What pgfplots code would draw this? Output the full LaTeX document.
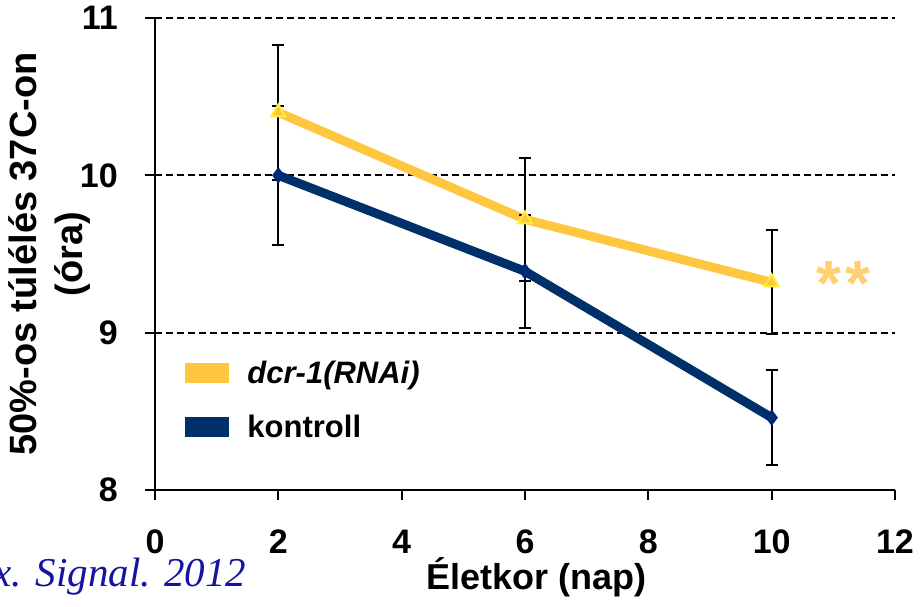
\documentclass[border=0pt]{standalone}
\usepackage{fontspec}
\setmainfont{Liberation Sans}
\newfontfamily\timesfont{Liberation Serif}
\usepackage{pgfplots}
\pgfplotsset{compat=1.18}
\definecolor{dcr}{HTML}{FFC640}
\definecolor{dcrmark}{HTML}{FFEE33}
\definecolor{ctl}{HTML}{003069}
\definecolor{ctlmark}{HTML}{00208C}
\definecolor{star}{HTML}{FFCF70}
\definecolor{cite}{HTML}{1414A0}
\begin{document}
\begin{tikzpicture}
\path[use as bounding box] (0,0) rectangle (922pt,606pt);
\begin{axis}[
  at={(155pt,116pt)}, anchor=south west,
  scale only axis, width=740pt, height=472pt,
  xmin=0, xmax=12, ymin=8, ymax=11,
  xtick={0,2,4,6,8,10,12}, ytick={8,9,10,11},
  axis x line=bottom, axis y line=left,
  axis line style={line width=2pt, -},
  tick style={line width=2pt, black},
  tick align=outside, major tick length=10pt,
  ymajorgrids,
  grid style={black, line width=2pt, dash pattern=on 7pt off 4pt},
  /pgf/number format/assume math mode=true,
  ticklabel style={font=\bfseries\fontsize{34}{34}\selectfont},
  yticklabel style={inner sep=0pt, xshift=-27pt},
  xticklabel style={inner sep=0pt, yshift=-30pt},
  ylabel={50\%-os túlélés 37C-on\\(óra)},
  ylabel style={font=\bfseries\fontsize{38}{46}\selectfont, align=center,
    at={(axis description cs:-0.143,0.5)}, anchor=center, rotate=0},
  xlabel={Életkor (nap)},
  xlabel style={font=\bfseries\fontsize{36}{36}\selectfont,
    at={(axis description cs:0.516,-0.184)}, anchor=center},
  legend style={draw=none, fill=none, inner sep=0pt, outer sep=0pt,
    at={(rel axis cs:0.0405,0.19)}, anchor=west,
    font=\bfseries\fontsize{31}{31}\selectfont, row sep=30pt,
    nodes={inner sep=0pt, outer sep=0pt}},
  legend cell align=left,
  legend image code/.code={\fill (0pt,-5.5pt) rectangle (35pt,5.5pt); \path[draw=none, fill=none] (58pt,0pt);},
  clip=false,
]
\addplot[dcr, line width=9pt,
  mark=triangle*, mark size=8pt,
  mark options={fill=dcr, draw=dcrmark, line width=2pt},
  error bars/.cd, y dir=both, y explicit,
  error bar style={black, line width=2pt},
  error mark options={rotate=90, black, line width=2pt, mark size=6pt}]
  coordinates {(2,10.40) +- (0,0.43) (6,9.72) +- (0,0.39) (10,9.32) +- (0,0.33)};
\addlegendentry{\textit{dcr-1(RNAi)}}
\addplot[ctl, line width=9pt,
  mark=diamond*, mark size=7pt,
  mark options={fill=ctl, draw=ctlmark, line width=1.5pt},
  error bars/.cd, y dir=both, y explicit,
  error bar style={black, line width=2pt},
  error mark options={rotate=90, black, line width=2pt, mark size=6pt}]
  coordinates {(2,10.00) +- (0,0.44) (6,9.39) +- (0,0.36) (10,8.46) +- (0,0.30)};
\addlegendentry{kontroll}
\node[anchor=base, text=star, font=\bfseries\fontsize{64}{64}\selectfont] at (axis cs:11.16,9.17) {*\kern4pt*};
\end{axis}
\node[anchor=base east, text=cite, font=\timesfont\itshape\fontsize{41}{41}\selectfont] at (250pt,20pt) {Antioxid. Redox. Signal. 2012};
\end{tikzpicture}
\end{document}
